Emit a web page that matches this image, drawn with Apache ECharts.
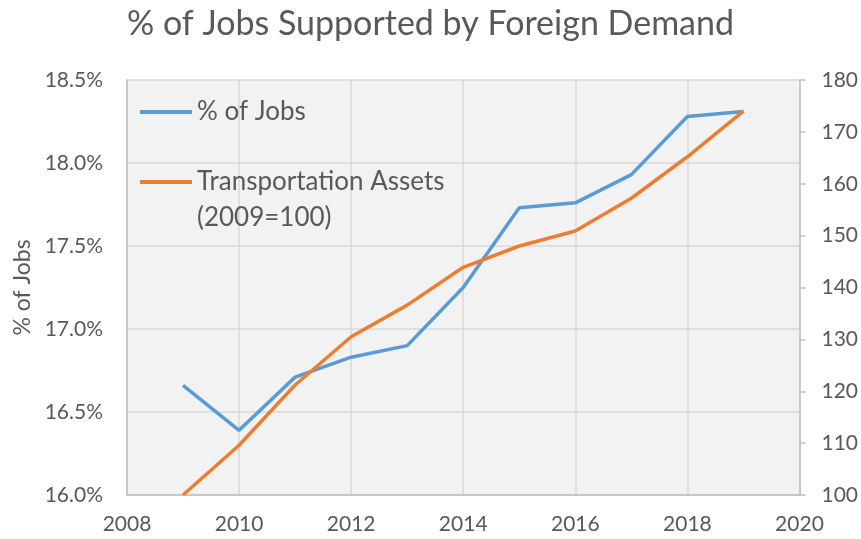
<!DOCTYPE html>
<html>
<head>
<meta charset="utf-8">
<style>
  html, body { margin: 0; padding: 0; background: #fff; }
  #chart { width: 861px; height: 539px; }
</style>
<script src="https://cdn.jsdelivr.net/npm/echarts@6/dist/echarts.min.js"></script>
</head>
<body>
<div id="chart"></div>
<script>
const years = [2009, 2010, 2011, 2012, 2013, 2014, 2015, 2016, 2017, 2018, 2019]
const jobsPct = [16.66, 16.39, 16.71, 16.83, 16.90, 17.25, 17.73, 17.76, 17.93, 18.28, 18.31]
const transportAssets = [100, 109.6, 121.2, 130.5, 136.6, 143.9, 148.0, 150.9, 157.2, 165.2, 174.0]

const textColor = '#595959'
const font = 'Lato'

const chart = echarts.init(document.getElementById('chart'))

chart.setOption({
  animation: false,
  textStyle: { fontFamily: font, color: textColor },
  title: {
    text: '% of Jobs Supported by Foreign Demand',
    left: 'center',
    top: 2,
    textStyle: { fontFamily: font, fontSize: 34, fontWeight: 'normal', color: textColor },
  },
  legend: {
    orient: 'vertical',
    left: 140,
    top: 97,
    padding: 0,
    itemWidth: 52,
    itemHeight: 4,
    itemGap: 1,
    icon: 'rect',
    // leading blank line keeps the icon level with the first line of a two-line name
    formatter: (name) => (name.includes('\n') ? '\n' + name : name),
    textStyle: { fontFamily: font, fontSize: 26, color: textColor, lineHeight: 30 },
    data: [
      { name: '% of Jobs' },
      { name: 'Transportation Assets\n(2009=100)', textStyle: { fontSize: 26, lineHeight: 36 } },
    ],
  },
  grid: {
    left: 127,
    right: 61,
    top: 80,
    bottom: 44,
    show: true,
    backgroundColor: '#f2f2f2',
    borderWidth: 0,
  },
  xAxis: {
    type: 'value',
    min: 2008,
    max: 2020,
    interval: 2,
    axisLine: { show: true, lineStyle: { color: '#bfbfbf', width: 1.5 } },
    axisTick: { show: false },
    axisLabel: { color: textColor, fontSize: 21, margin: 19, fontFamily: font, formatter: (v) => String(v) },
    splitLine: { show: true, lineStyle: { color: '#d9d9d9', width: 1.5 } },
  },
  yAxis: [
    {
      type: 'value',
      min: 16,
      max: 18.5,
      interval: 0.5,
      name: '% of Jobs',
      nameLocation: 'middle',
      nameRotate: 90,
      nameGap: 90,
      nameTextStyle: { fontSize: 23, color: textColor, fontFamily: font },
      axisLine: { show: true, lineStyle: { color: '#bfbfbf', width: 1.5 } },
      axisTick: { show: false },
      axisLabel: {
        color: textColor,
        fontSize: 21,
        margin: 24,
        fontFamily: font,
        formatter: (v) => v.toFixed(1) + '%',
      },
      splitLine: { show: true, lineStyle: { color: '#d9d9d9', width: 1.5 } },
    },
    {
      type: 'value',
      min: 100,
      max: 180,
      interval: 10,
      position: 'right',
      axisLine: { show: true, lineStyle: { color: '#bfbfbf', width: 1.5 } },
      axisTick: { show: true, inside: false, length: 6, lineStyle: { color: '#bfbfbf', width: 1.5 } },
      axisLabel: { color: textColor, fontSize: 21, margin: 22, fontFamily: font },
      splitLine: { show: false },
    },
  ],
  series: [
    {
      name: '% of Jobs',
      type: 'line',
      yAxisIndex: 0,
      symbol: 'none',
      lineStyle: { color: '#5b9bd5', width: 3.5 },
      itemStyle: { color: '#5b9bd5' },
      data: years.map((y, i) => [y, jobsPct[i]]),
    },
    {
      name: 'Transportation Assets\n(2009=100)',
      type: 'line',
      yAxisIndex: 1,
      symbol: 'none',
      lineStyle: { color: '#ed7d31', width: 3.5 },
      itemStyle: { color: '#ed7d31' },
      data: years.map((y, i) => [y, transportAssets[i]]),
    },
  ],
})
</script>
</body>
</html>
